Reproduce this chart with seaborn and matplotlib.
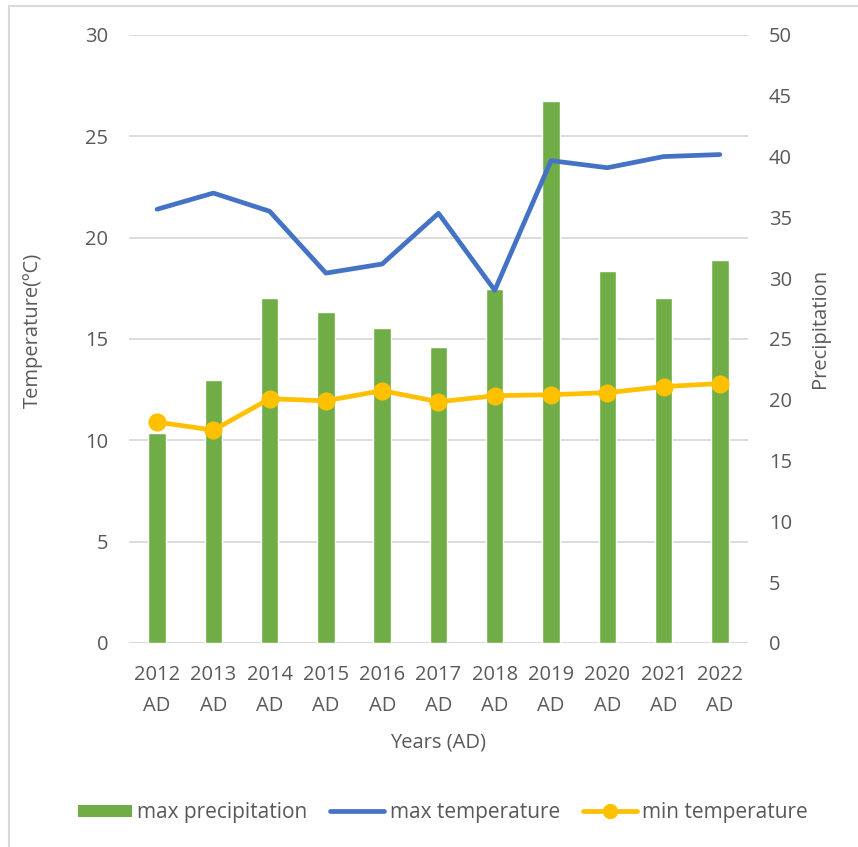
import matplotlib
matplotlib.use("Agg")
import matplotlib.pyplot as plt
from matplotlib.patches import Patch
from matplotlib.lines import Line2D
import seaborn as sns
import numpy as np

# Data
years = ["2012\nAD", "2013\nAD", "2014\nAD", "2015\nAD", "2016\nAD", "2017\nAD",
         "2018\nAD", "2019\nAD", "2020\nAD", "2021\nAD", "2022\nAD"]
max_precipitation = [17.3, 21.6, 28.4, 27.2, 25.9, 24.3, 29.1, 44.6, 30.6, 28.4, 31.5]
max_temperature = [21.4, 22.2, 21.3, 18.25, 18.7, 21.2, 17.4, 23.8, 23.45, 24.0, 24.1]
min_temperature = [10.9, 10.5, 12.05, 11.95, 12.45, 11.9, 12.2, 12.25, 12.35, 12.65, 12.8]
temp_ticks = [0, 5, 10, 15, 20, 25, 30]
precip_ticks = [0, 5, 10, 15, 20, 25, 30, 35, 40, 45, 50]

GREEN = "#70AD47"
BLUE = "#4472C4"
YELLOW = "#FFC000"
TEXT = "#595959"
GRID = "#D9D9D9"
FS = 14.5

sns.set_theme(style="white")
plt.rcParams["font.family"] = ["Open Sans", "DejaVu Sans"]
plt.rcParams["text.color"] = TEXT
plt.rcParams["axes.labelcolor"] = TEXT
plt.rcParams["xtick.color"] = TEXT
plt.rcParams["ytick.color"] = TEXT

fig = plt.figure(figsize=(8.58, 8.47), dpi=100)
rect = [0.1503, 0.2409, 0.7215, 0.7178]

# Base axes: temperature scale, gridlines and category labels (drawn behind everything)
ax_t = fig.add_axes(rect)
ax_t.set_ylim(0, 30)
ax_t.set_yticks(temp_ticks)
ax_t.yaxis.grid(True, color=GRID, linewidth=1.3)
ax_t.set_axisbelow(True)
for s in ax_t.spines.values():
    s.set_visible(False)
ax_t.tick_params(axis="y", length=0, pad=15, labelsize=FS)

# Precipitation bars on the right-hand scale
ax_p = ax_t.twinx()
sns.barplot(x=years, y=max_precipitation, color=GREEN, saturation=1,
            width=0.31, ax=ax_p, zorder=2)
ax_p.set_ylim(0, 50)
ax_p.set_yticks(precip_ticks)
ax_p.tick_params(axis="y", length=0, pad=15, labelsize=FS)
ax_p.set_ylabel("")
for s in ax_p.spines.values():
    s.set_visible(False)

# Temperature lines on top, sharing the left scale
ax_l = ax_t.twinx()
sns.pointplot(x=years, y=max_temperature, color=BLUE, markers="",
              linewidth=3.4, ax=ax_l, errorbar=None)
sns.pointplot(x=years, y=min_temperature, color=YELLOW, markers="o",
              markersize=10.5, linewidth=3.4, ax=ax_l, errorbar=None)
ax_l.set_ylim(0, 30)
ax_l.set_yticks([])
ax_l.set_ylabel("")
for s in ax_l.spines.values():
    s.set_visible(False)
for line in ax_l.lines:
    line.set_solid_capstyle("round")
    line.set_solid_joinstyle("round")

for a in (ax_t, ax_p, ax_l):
    a.set_xlim(-0.5, len(years) - 0.5)
    a.patch.set_visible(False)
ax_t.patch.set_visible(True)
ax_t.patch.set_facecolor("white")

ax_t.axhline(0, color=GRID, linewidth=1.3, zorder=3)

# Category labels on the shared x axis (the base axes owns the visible x axis)
ax_t.xaxis.set_visible(True)
ax_t.set_xticks(range(len(years)))
ax_t.set_xticklabels(years, linespacing=1.75)
ax_t.tick_params(axis="x", length=0, pad=16, labelsize=FS, labelbottom=True)

fig.text(0.0385, 0.61, "Temperature(ºC)", rotation=90, ha="center", va="center",
         fontsize=FS, color=TEXT)
fig.text(0.956, 0.612, "Precipitation", rotation=90, ha="center", va="center",
         fontsize=FS, color=TEXT)
fig.text(0.511, 0.123, "Years (AD)", ha="center", va="center",
         fontsize=FS, color=TEXT)

# Legend
handles = [
    Patch(facecolor=GREEN, edgecolor="none"),
    Line2D([0], [0], color=BLUE, linewidth=3.4, solid_capstyle="round"),
    Line2D([0], [0], color=YELLOW, linewidth=3.4, marker="o", markersize=10,
           solid_capstyle="round"),
]
labels = ["max precipitation", "max temperature", "min temperature"]
fig.legend(handles, labels, loc="center", bbox_to_anchor=(0.516, 0.0405), ncol=3,
           frameon=False, fontsize=FS + 0.5, handlelength=2.6, handleheight=0.55,
           handletextpad=0.25, columnspacing=1.1, labelcolor=TEXT)

# Chart frame (top and left edges)
fig.add_artist(Line2D([9 / 858, 1.0], [1 - 6 / 847, 1 - 6 / 847],
                      transform=fig.transFigure, color="#D9D9D9", linewidth=1.5))
fig.add_artist(Line2D([9 / 858, 9 / 858], [0.0, 1 - 6 / 847],
                      transform=fig.transFigure, color="#D9D9D9", linewidth=1.5))

fig.savefig("out.png", dpi=100, facecolor="white")
